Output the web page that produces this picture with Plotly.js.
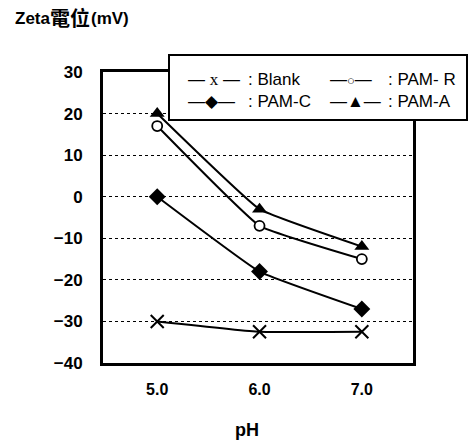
<!DOCTYPE html>
<html><head><meta charset="utf-8">
<script src="https://cdn.plot.ly/plotly-3.0.1.min.js"></script>
<style>html,body{margin:0;padding:0;background:#fff}#chart{width:470px;height:443px}</style>
</head><body><div id="chart"></div>
<script>
const pH = [5.0, 6.0, 7.0];
const blank = [-30, -32.5, -32.5];
const pamR = [17, -7, -15];
const pamC = [0, -18, -27];
const pamA = [20, -3, -12];
const yTicks = [-40, -30, -20, -10, 0, 10, 20, 30];
const xTicks = [5.0, 6.0, 7.0];
const xTickText = ['5.0', '6.0', '7.0'];

const sans = 'Liberation Sans, Arial, sans-serif';
const line = {color: '#000', width: 2, shape: 'spline', smoothing: 0.3};

function tr(y, sym, size, fill, lw) {
  return {x: pH, y: y, type: 'scatter', mode: 'lines+markers', line: line,
    marker: {symbol: sym, size: size, color: fill, line: {color: '#000', width: lw}},
    showlegend: false, hoverinfo: 'skip'};
}
const data = [
  tr(blank, 'x-thin-open', 13, '#000', 2),
  tr(pamC, 'diamond', 13, '#000', 0),
  tr(pamR, 'circle', 10, '#fff', 1.8),
  tr(pamA, 'triangle-up', 13, '#000', 0)
];

const W = 310, H = 291, L = 103, T = 72;
const px = v => (v - L) / W;
const py = v => (T + H - v) / H;
const legFont = {family: sans, size: 17, color: '#000'};
function ann(text, x, y, font, anchor) {
  return {text: text, xref: 'paper', yref: 'paper', x: px(x), y: py(y), xanchor: anchor || 'left',
    yanchor: 'middle', showarrow: false, font: font || legFont};
}
const annotations = [
  ann('Zeta', 13, 18, {family: sans, size: 17, color: '#000', weight: 'bold'}),
  ann('電位', 48, 17, {family: 'Noto Sans CJK TC, Noto Sans CJK SC', size: 20, color: '#000', weight: 'bold'}),
  ann('(mV)', 89, 18, {family: sans, size: 17, color: '#000', weight: 'bold'}),
  ann('pH', 247, 430, {family: sans, size: 18, color: '#000', weight: 'bold'}, 'center'),
  ann('— <span style="font-family:Liberation Serif,serif">x</span> —', 186, 79),
  ann(': Blank', 246, 79),
  ann('—<span style="font-size:13px">○</span>—', 328, 79),
  ann(': PAM- R', 386, 79),
  ann('—◆—', 186, 102),
  ann(': PAM-C', 246, 102),
  ann('—▲—', 328, 102),
  ann(': PAM-A', 386, 102)
];

const layout = {
  width: 470, height: 443,
  margin: {l: L, r: 470 - L - W, t: T, b: 443 - T - H, pad: 0},
  paper_bgcolor: '#fff', plot_bgcolor: '#fff',
  font: {family: sans, color: '#000'},
  xaxis: {range: [4.47, 7.5], tickvals: xTicks, ticktext: xTickText, showgrid: false, zeroline: false,
    showline: true, mirror: true, linecolor: '#000', linewidth: 3, ticks: '', ticklabelstandoff: 10,
    tickfont: {family: sans, size: 16, color: '#000', weight: 'bold'}},
  yaxis: {range: [-40, 30], tickvals: yTicks, showgrid: true, gridcolor: '#000', griddash: 'dot', gridwidth: 1,
    zeroline: false, showline: true, mirror: true, linecolor: '#000', linewidth: 3, ticks: '',
    ticklabelstandoff: 14, tickfont: {family: sans, size: 17, color: '#000', weight: 'bold'}},
  shapes: [{type: 'rect', xref: 'paper', yref: 'paper', x0: px(169), x1: px(467), y0: py(120), y1: py(55),
    fillcolor: '#fff', line: {color: '#000', width: 2}, layer: 'above'}],
  annotations: annotations
};
Plotly.newPlot('chart', data, layout, {staticPlot: true, displayModeBar: false});
</script></body></html>
